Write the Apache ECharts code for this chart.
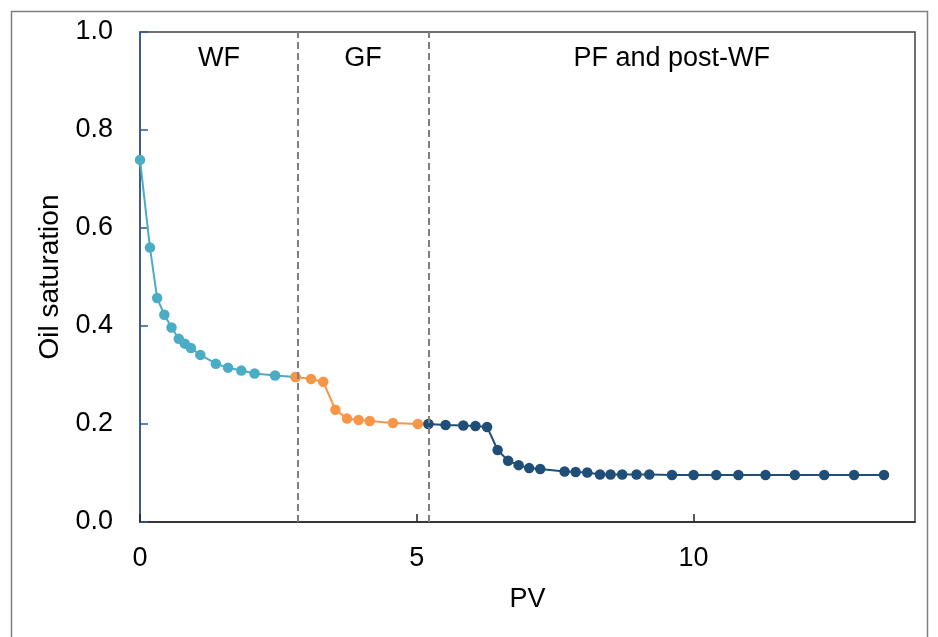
<!DOCTYPE html>
<html>
<head>
<meta charset="utf-8">
<script src="https://cdn.jsdelivr.net/npm/echarts@6/dist/echarts.min.js"></script>
<style>
  html, body { margin: 0; padding: 0; background: #fff; }
  #chart { width: 938px; height: 637px; }
</style>
</head>
<body>
<div id="chart"></div>
<script>
// Oil saturation vs injected pore volumes (PV), by flooding stage
const wfPV  = [0, 0.18, 0.31, 0.44, 0.57, 0.70, 0.81, 0.92, 1.09, 1.37, 1.59, 1.83, 2.07, 2.44, 2.81];
const wfSo  = [0.739, 0.560, 0.457, 0.423, 0.397, 0.374, 0.364, 0.355, 0.341, 0.323, 0.315, 0.309, 0.303, 0.299, 0.296];

const gfPV  = [2.81, 3.09, 3.31, 3.53, 3.74, 3.95, 4.15, 4.57, 5.02, 5.21];
const gfSo  = [0.296, 0.292, 0.286, 0.229, 0.211, 0.208, 0.206, 0.202, 0.200, 0.200];

const pfPV  = [5.21, 5.52, 5.84, 6.06, 6.27, 6.46, 6.65, 6.84, 7.03, 7.23, 7.67, 7.87, 8.08, 8.31, 8.50, 8.71, 8.97, 9.20, 9.61, 10.00, 10.41, 10.81, 11.30, 11.83, 12.36, 12.90, 13.44];
const pfSo  = [0.200, 0.198, 0.197, 0.196, 0.194, 0.147, 0.125, 0.116, 0.110, 0.108, 0.103, 0.102, 0.101, 0.097, 0.097, 0.097, 0.097, 0.097, 0.096, 0.096, 0.096, 0.096, 0.096, 0.096, 0.096, 0.096, 0.096];

// Stage boundaries (PV) and stage names
const stageBounds = [0, 2.85, 5.21, 14];
const stageNames  = ['WF', 'GF', 'PF and post-WF'];
const stageLabelSo = 0.945;

const FONT = '"Liberation Sans", Arial, sans-serif';
const FS = 27;
const pairs = (xs, ys) => xs.map((x, i) => [x, ys[i]]);

const lineSeries = (name, xs, ys, color, z) => ({
  name, type: 'line', data: pairs(xs, ys), z,
  symbol: 'circle', symbolSize: 10.5,
  lineStyle: { color, width: 2 },
  itemStyle: { color },
  emphasis: { disabled: true },
  animation: false
});

const stageLabels = stageNames.map((n, i) => ({
  value: [(stageBounds[i] + stageBounds[i + 1]) / 2, stageLabelSo],
  label: { formatter: n }
}));

const chart = echarts.init(document.getElementById('chart'));
chart.setOption({
  animation: false,
  graphic: [{
    type: 'rect', left: 9, top: 9, z: -1,
    shape: { width: 916, height: 660 },
    style: { fill: 'none', stroke: '#7f7f7f', lineWidth: 1.5 }
  }],
  grid: { left: 140, right: 23, top: 32, bottom: 115, show: true, borderColor: '#404040', borderWidth: 1.5 },
  xAxis: {
    type: 'value', min: 0, max: 14, interval: 5,
    name: 'PV', nameLocation: 'middle', nameGap: 64,
    nameTextStyle: { fontFamily: FONT, fontSize: FS, color: '#000' },
    axisLine: { show: true, onZero: false, lineStyle: { color: '#262626', width: 1.5 } },
    axisTick: { show: true, inside: true, length: 8, lineStyle: { color: '#262626', width: 1.5 } },
    axisLabel: { fontFamily: FONT, fontSize: FS, color: '#000', margin: 23, showMaxLabel: false },
    splitLine: { show: false }
  },
  yAxis: {
    type: 'value', min: 0, max: 1, interval: 0.2,
    name: 'Oil saturation', nameLocation: 'middle', nameGap: 76,
    nameTextStyle: { fontFamily: FONT, fontSize: 28, color: '#000' },
    axisLine: { show: true, lineStyle: { color: '#2F5597', width: 1.5 } },
    axisTick: { show: true, inside: true, length: 8, lineStyle: { color: '#2F5597', width: 1.5 } },
    axisLabel: { fontFamily: FONT, fontSize: FS, color: '#000', margin: 27,
      formatter: v => v.toFixed(1) },
    splitLine: { show: false }
  },
  series: [
    Object.assign(lineSeries('WF', wfPV, wfSo, '#4BACC6', 2), {
      markLine: {
        silent: true, symbol: 'none', label: { show: false },
        lineStyle: { color: '#808080', type: [7, 4], width: 2 },
        data: stageBounds.slice(1, 3).map(v => ({ xAxis: v }))
      }
    }),
    lineSeries('GF', gfPV, gfSo, '#F79646', 3),
    lineSeries('PF', pfPV, pfSo, '#1F4E79', 4),
    {
      type: 'scatter', symbolSize: 0, silent: true,
      itemStyle: { opacity: 1 },
      data: stageLabels,
      label: { show: true, position: 'inside', fontFamily: FONT, fontSize: FS,
        color: '#000', textBorderWidth: 0 }
    }
  ]
});
</script>
</body>
</html>
